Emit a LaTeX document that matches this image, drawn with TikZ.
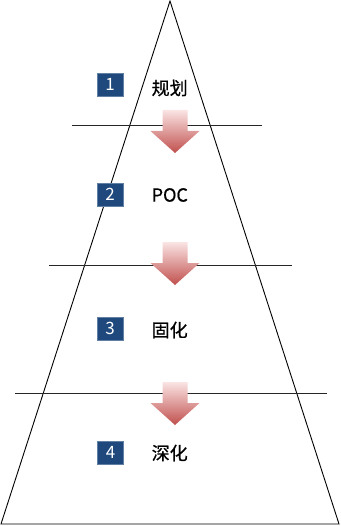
\documentclass[tikz,border=0pt]{standalone}
\usepackage{fontspec}
\setmainfont{Noto Sans CJK SC}
\newfontfamily\labelfont[FakeBold=0.7]{Noto Sans CJK SC}
\usetikzlibrary{calc}
\definecolor{numblue}{RGB}{31,73,125}
\definecolor{arrowred}{RGB}{192,80,77}
\definecolor{arrowtop}{RGB}{250,228,228}
\tikzset{
  numbox/.style={fill=numblue, draw=numblue!70!white, line width=0.4pt, minimum width=26pt, minimum height=23pt, inner sep=0pt, text=white, font=\fontsize{17}{17}\selectfont},
  stagelabel/.style={anchor=west, inner sep=0pt, font=\labelfont\fontsize{18}{18}\selectfont},
  divider/.style={line width=0.9pt, black!85},
  edge/.style={line width=0.9pt, black},
  downarrow/.style={top color=arrowtop, bottom color=arrowred, draw=none}
}
\newcommand{\stagearrow}[2]{%
  % #1 = center x, #2 = top y
  \path[downarrow] (#1-12.5,#2) -- (#1+12.5,#2) -- (#1+12.5,#2+21) -- (#1+24.5,#2+21) -- (#1,#2+43) -- (#1-24.5,#2+21) -- (#1-12.5,#2+21) -- cycle;
}
\begin{document}
\begin{tikzpicture}[x=1pt,y=-1pt]
\useasboundingbox (0,0) rectangle (340,526);
% pyramid
\coordinate (apex) at (170,1);
\coordinate (bl) at (1,524);
\coordinate (br) at (339,524);
\draw[edge, line join=miter] (bl) -- (apex) -- (br) -- cycle;
% dividers
\coordinate (d1l) at (72,125); \coordinate (d1r) at (262,125);
\coordinate (d2l) at (49,265); \coordinate (d2r) at (292,265);
\coordinate (d3l) at (15,393); \coordinate (d3r) at (327,393);
\draw[divider] (d1l) -- (d1r);
\draw[divider] (d2l) -- (d2r);
\draw[divider] (d3l) -- (d3r);
% arrows
\stagearrow{175}{110}
\stagearrow{175}{242}
\stagearrow{175}{382}
% number boxes
\node[numbox] (n1) at (110,84.5) {1};
\node[numbox] (n2) at (110,194.5) {2};
\node[numbox] (n3) at (110,328.5) {3};
\node[numbox] (n4) at (110.5,452.5) {4};
% labels
\node[stagelabel] (l1) at (151.5,88) {规划};
\node[stagelabel] (l2) at (151.5,195) {POC};
\node[stagelabel] (l3) at (151.5,330) {固化};
\node[stagelabel] (l4) at (151.5,453) {深化};
\end{tikzpicture}
\end{document}
